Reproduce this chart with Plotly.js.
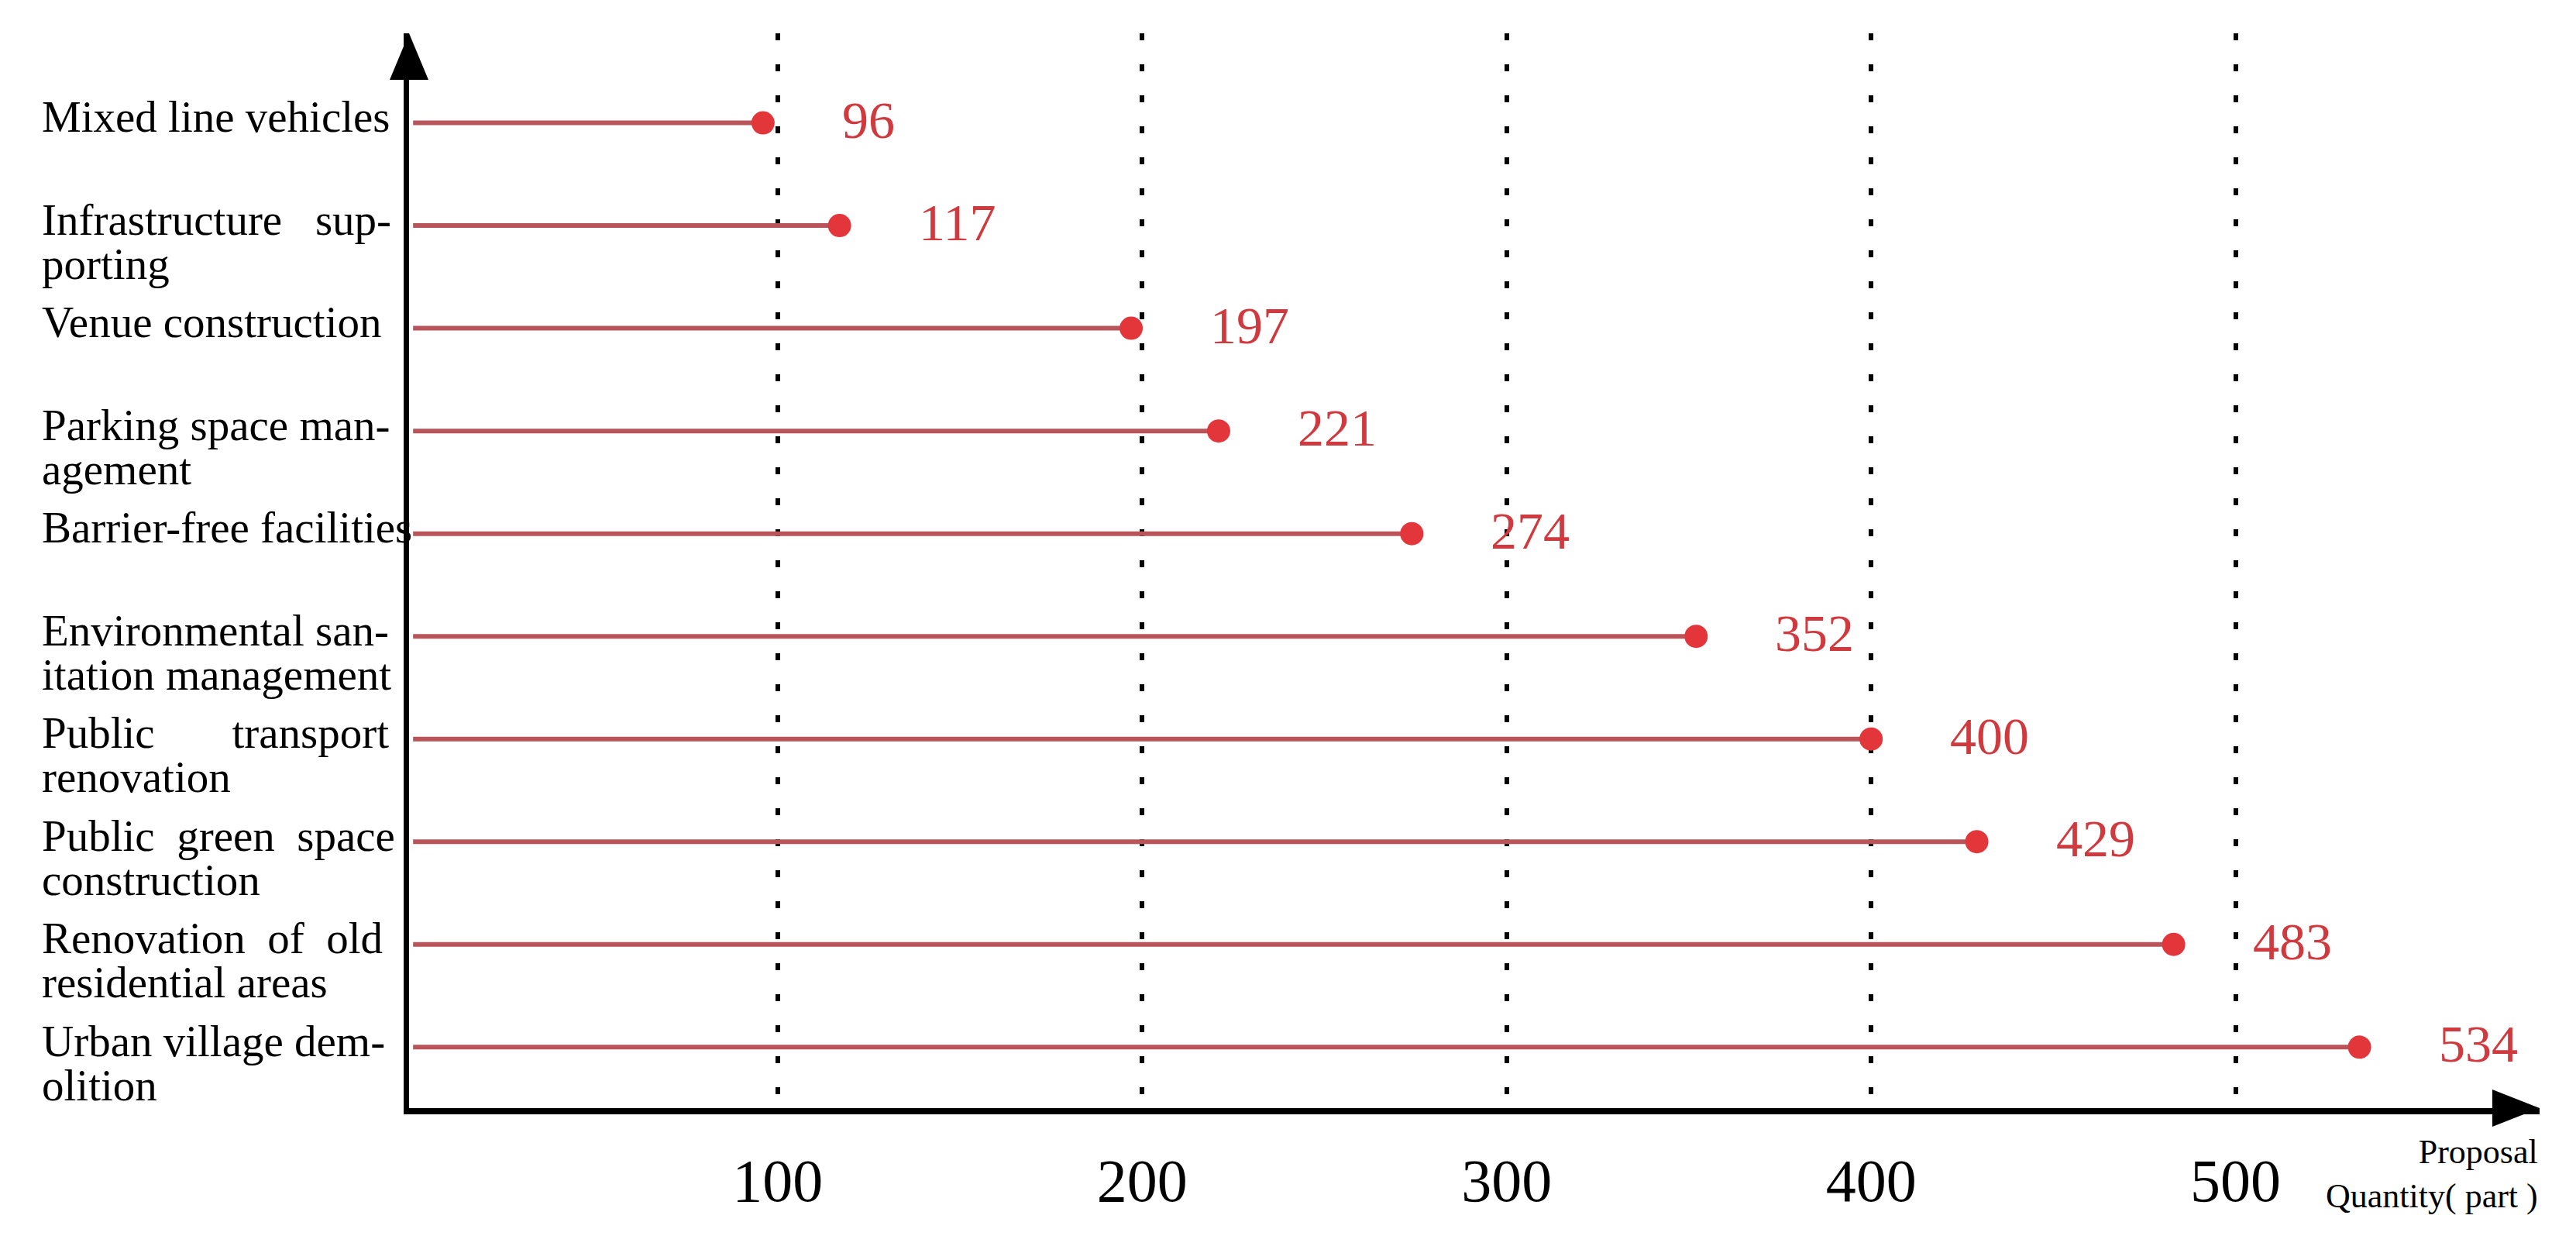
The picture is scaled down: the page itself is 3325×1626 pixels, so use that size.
<!DOCTYPE html>
<html>
<head>
<meta charset="utf-8">
<script src="https://cdn.plot.ly/plotly-3.0.1.min.js"></script>
<style>
  body { margin: 0; background: #fff; }
  #proposalPlot { width: 3325px; height: 1626px; }
</style>
</head>
<body>
<div id="proposalPlot"></div>
<script>
// categories from top to bottom, as in the figure
var categories = [
  'Mixed line vehicles',
  'Infrastructure supporting',
  'Venue construction',
  'Parking space management',
  'Barrier-free facilities',
  'Environmental sanitation management',
  'Public transport renovation',
  'Public green space construction',
  'Renovation of old residential areas',
  'Urban village demolition'
];
// the printed labels, hyphenated and spread like the justified text
var labelText = [
  'Mixed line vehicles',
  'Infrastructure&nbsp;&nbsp;&nbsp;sup-<br>porting',
  'Venue construction',
  'Parking space man-<br>agement',
  'Barrier-free facilities',
  'Environmental san-<br>itation management',
  'Public&nbsp;&nbsp;&nbsp;&nbsp;&nbsp;&nbsp;&nbsp;transport<br>renovation',
  'Public&nbsp;&nbsp;green&nbsp;&nbsp;space<br>construction',
  'Renovation&nbsp;&nbsp;of&nbsp;&nbsp;old<br>residential areas',
  'Urban village dem-<br>olition'
];
var proposals = [96, 117, 197, 221, 274, 352, 400, 429, 483, 534];
var tickValues = [100, 200, 300, 400, 500];

var serif = 'Liberation Serif, Times New Roman, serif';

function lollipop() {
  // stems from the axis to each value
  var sx = [];
  var sy = [];
  for (i = 0; i < categories.length; i++) {
    sx.push(0, proposals[i], null);
    sy.push(categories[i], categories[i], null);
  }
  var stems = {
    x: sx,
    y: sy,
    mode: 'lines',
    type: 'scatter',
    line: { color: '#b9555a', width: 6 },
    hoverinfo: 'skip',
    showlegend: false
  };
  var dots = {
    x: proposals,
    y: categories,
    mode: 'markers',
    type: 'scatter',
    marker: { size: 30, color: '#e3363b' },
    showlegend: false
  };

  var notes = [];
  for (i = 0; i < categories.length; i++) {
    // value next to the dot
    notes.push({
      x: proposals[i],
      y: categories[i],
      xref: 'x',
      yref: 'y',
      text: String(proposals[i]),
      showarrow: false,
      xanchor: 'left',
      xshift: 100,
      yshift: 4,
      font: { family: serif, size: 68, color: '#d0393e' }
    });
    // category label, one annotation per printed line (tighter leading)
    var lines = labelText[i].split('<br>');
    for (k = 0; k < lines.length; k++) {
      notes.push({
        x: -0.173,
        y: categories[i],
        xref: 'paper',
        yref: 'y',
        text: lines[k],
        showarrow: false,
        xanchor: 'left',
        yanchor: 'middle',
        align: 'left',
        yshift: 8 - k * 57,
        font: { family: serif, size: 57, color: '#000' }
      });
    }
  }
  // axis name at the arrow end
  notes.push({
    x: 1,
    y: 0,
    xref: 'paper',
    yref: 'paper',
    text: 'Proposal<br>Quantity( part )',
    showarrow: false,
    xanchor: 'right',
    yanchor: 'top',
    align: 'right',
    yshift: -30,
    font: { family: serif, size: 44, color: '#000' }
  });

  var layout = {
    width: 3325,
    height: 1626,
    margin: { l: 528, r: 47, t: 43, b: 196 },
    paper_bgcolor: '#fff',
    plot_bgcolor: '#fff',
    showlegend: false,
    xaxis: {
      range: [-1.1, 583.4],
      tickvals: tickValues,
      ticktext: tickValues.map(String),
      ticks: '',
      ticklabelstandoff: 18,
      tickfont: { family: serif, size: 78, color: '#000' },
      showgrid: true,
      gridcolor: '#000',
      gridwidth: 6,
      griddash: '9px,31px',
      zeroline: false,
      showline: true,
      linecolor: '#000',
      linewidth: 8
    },
    yaxis: {
      type: 'category',
      categoryarray: categories.slice().reverse(),
      range: [-0.594, 9.872],
      showticklabels: false,
      ticks: '',
      showgrid: false,
      zeroline: false,
      showline: true,
      linecolor: '#000',
      linewidth: 7
    },
    annotations: notes,
    shapes: [
      // arrow heads on both axes
      {
        type: 'path',
        xref: 'paper', yref: 'paper',
        xsizemode: 'pixel', ysizemode: 'pixel',
        xanchor: 0, yanchor: 1,
        path: 'M -25,-60 L 25,-60 L 0,0 Z',
        fillcolor: '#000',
        line: { width: 0 }
      },
      {
        type: 'path',
        xref: 'paper', yref: 'paper',
        xsizemode: 'pixel', ysizemode: 'pixel',
        xanchor: 1, yanchor: 0,
        path: 'M -61,24 L -61,-24 L 0,0 Z',
        fillcolor: '#000',
        line: { width: 0 }
      }
    ]
  };

  Plotly.newPlot('proposalPlot', [stems, dots], layout, { displayModeBar: false });
}

lollipop();
</script>
</body>
</html>
